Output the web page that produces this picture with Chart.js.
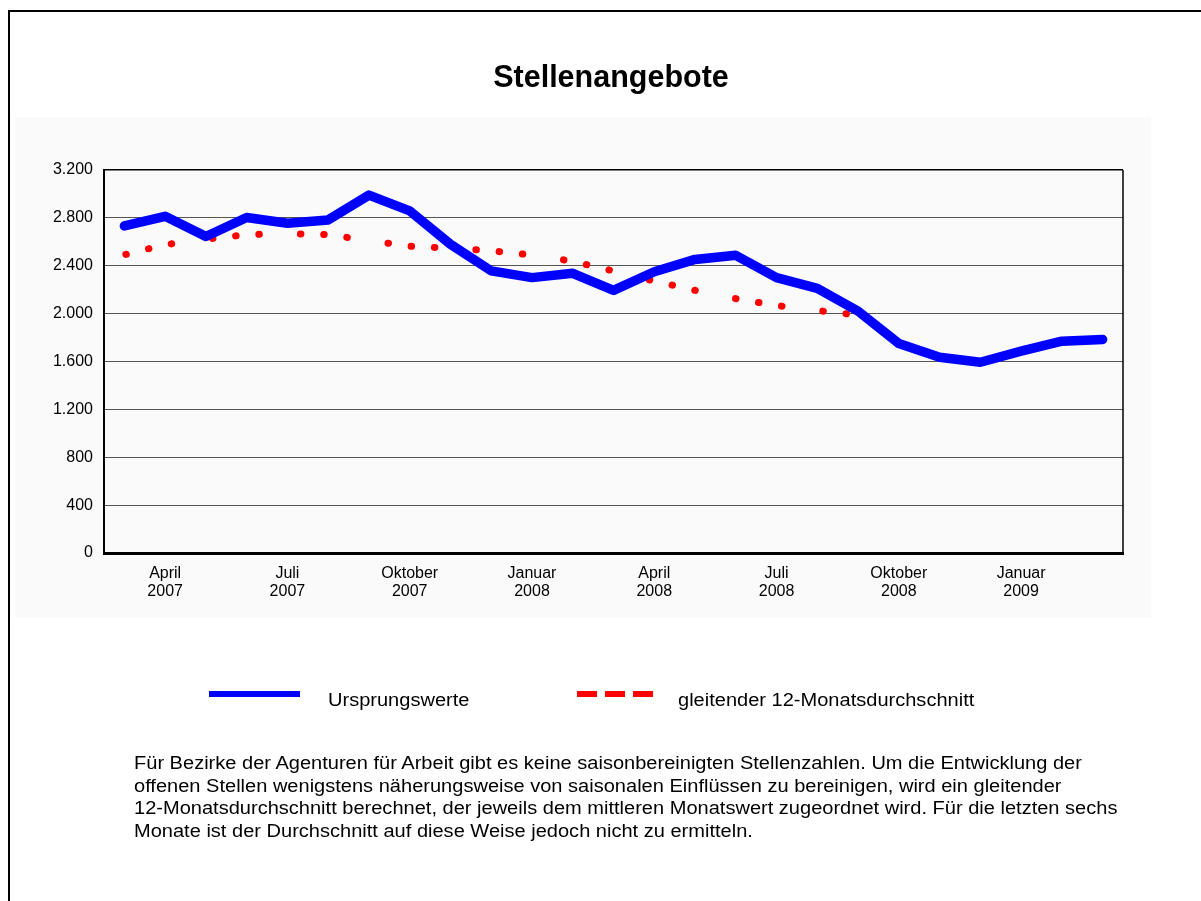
<!DOCTYPE html>
<html lang="de">
<head>
<meta charset="utf-8">
<title>Stellenangebote</title>
<script src="https://cdn.jsdelivr.net/npm/chart.js@4/dist/chart.umd.min.js"></script>
<style>
  html, body { margin: 0; padding: 0; background: #fff; overflow: hidden; }
  body { width: 1201px; height: 901px; position: relative; font-family: Arial, "Liberation Sans", sans-serif; color: #000; }
  #frame { position: absolute; left: 8px; top: 10px; width: 1300px; height: 1000px; border: 2px solid #000; }
  #plotBg { position: absolute; left: 15px; top: 117px; width: 1136px; height: 501px; background: #fafafa; }
  #chart { position: absolute; left: 0; top: 0; }
  #title { position: absolute; left: 0; width: 1222px; top: 61px; text-align: center; font-size: 30.5px; font-weight: bold; line-height: 30px; }
  .legLine { position: absolute; height: 6px; }
  .legText { position: absolute; font-size: 17.5px; line-height: 19px; white-space: nowrap; transform: scaleX(1.145); transform-origin: 0 0; }
  #note { position: absolute; left: 134px; top: 752px; font-size: 17.5px; line-height: 22.6px; white-space: nowrap; transform: scaleX(1.145); transform-origin: 0 0; }
</style>
</head>
<body>
<div id="frame"></div>
<div id="plotBg"></div>
<canvas id="chart" width="1201" height="901"></canvas>
<div id="title">Stellenangebote</div>

<div class="legLine" style="left:209px; top:691px; width:91px; background:#0000ff;"></div>
<div class="legText" style="left:328px; top:691px;">Ursprungswerte</div>
<div class="legLine" style="left:577px; top:691px; width:20px; background:#ff0000;"></div>
<div class="legLine" style="left:605px; top:691px; width:20px; background:#ff0000;"></div>
<div class="legLine" style="left:633px; top:691px; width:20px; background:#ff0000;"></div>
<div class="legText" style="left:678px; top:691px;">gleitender 12-Monatsdurchschnitt</div>

<div id="note">Für Bezirke der Agenturen für Arbeit gibt es keine saisonbereinigten Stellenzahlen. Um die Entwicklung der<br>offenen Stellen wenigstens näherungsweise von saisonalen Einflüssen zu bereinigen, wird ein gleitender<br>12-Monatsdurchschnitt berechnet, der jeweils dem mittleren Monatswert zugeordnet wird. Für die letzten sechs<br>Monate ist der Durchschnitt auf diese Weise jedoch nicht zu ermitteln.</div>

<script>
// Monate März 2007 bis März 2009
const months = ['März', 'April', 'Mai', 'Juni', 'Juli', 'August', 'September', 'Oktober', 'November', 'Dezember',
  'Januar', 'Februar', 'März', 'April', 'Mai', 'Juni', 'Juli', 'August', 'September', 'Oktober', 'November', 'Dezember',
  'Januar', 'Februar', 'März'];
const years = ['2007', '2007', '2007', '2007', '2007', '2007', '2007', '2007', '2007', '2007',
  '2008', '2008', '2008', '2008', '2008', '2008', '2008', '2008', '2008', '2008', '2008', '2008',
  '2009', '2009', '2009'];

const ursprungswerte = [2733, 2813, 2644, 2803, 2755, 2783, 2990, 2858, 2580, 2357, 2301, 2337, 2194,
  2350, 2453, 2487, 2301, 2211, 2021, 1750, 1636, 1594, 1686, 1770, 1784];

// gleitender Durchschnitt, letzte sechs Monate nicht ermittelbar
const durchschnitt = [2492, 2576, 2622, 2660, 2668, 2660, 2610, 2563, 2547, 2525, 2490, 2437, 2356,
  2272, 2195, 2125, 2068, 2026, 1988, null, null, null, null, null, null];

const labels = months.map((m, i) => m + ' ' + years[i]);

function formatDe(v) {
  return String(v).replace(/\B(?=(\d{3})+(?!\d))/g, '.');
}

// rechter Rand des Diagrammbereichs
const frameRight = {
  id: 'frameRight',
  beforeDatasetsDraw(chart) {
    const { ctx, chartArea } = chart;
    ctx.save();
    ctx.strokeStyle = '#000';
    ctx.lineWidth = 1.5;
    ctx.beginPath();
    ctx.moveTo(chartArea.right, chartArea.top);
    ctx.lineTo(chartArea.right, chartArea.bottom);
    ctx.stroke();
    ctx.restore();
  }
};

const ctx = document.getElementById('chart').getContext('2d');
new Chart(ctx, {
  type: 'line',
  data: {
    labels: labels,
    datasets: [
      {
        label: 'Ursprungswerte',
        data: ursprungswerte,
        borderColor: '#0000ff',
        borderWidth: 9.5,
        borderCapStyle: 'round',
        borderJoinStyle: 'round',
        pointRadius: 0,
        tension: 0
      },
      {
        label: 'gleitender 12-Monatsdurchschnitt',
        data: durchschnitt,
        borderColor: '#ff0000',
        borderWidth: 7,
        borderCapStyle: 'round',
        borderDash: [0.5, 22.8, 0.5, 22.8, 0.5, 41.1],
        borderDashOffset: -1.5,
        pointRadius: 0,
        spanGaps: false,
        tension: 0
      }
    ]
  },
  options: {
    responsive: false,
    animation: false,
    layout: { padding: { top: 170, right: 78, bottom: 288, left: 0 } },
    plugins: {
      legend: { display: false },
      title: { display: false },
      tooltip: { enabled: false }
    },
    scales: {
      x: {
        offset: true,
        grid: { display: false, drawTicks: false, tickLength: 0 },
        border: { display: true, color: '#000', width: 3 },
        afterFit(scale) { scale.height = 60; },
        ticks: {
          autoSkip: false,
          maxRotation: 0,
          padding: 11,
          color: '#000',
          font: { family: 'Arial, "Liberation Sans", sans-serif', size: 16, lineHeight: 1.15 },
          callback(value, index) {
            return index % 3 === 1 ? [months[index], years[index]] : '';
          }
        }
      },
      y: {
        min: 0,
        max: 3200,
        grid: {
          drawTicks: false,
          color: (c) => c.tick && c.tick.value === 3200 ? '#000' : '#555',
          lineWidth: (c) => c.tick && c.tick.value === 3200 ? 1.5 : 1
        },
        border: { display: true, color: '#000', width: 2 },
        afterFit(scale) { scale.width = 104; },
        ticks: {
          stepSize: 400,
          padding: 11,
          color: '#000',
          font: { family: 'Arial, "Liberation Sans", sans-serif', size: 16 },
          callback(value) { return formatDe(value); }
        }
      }
    }
  },
  plugins: [frameRight]
});
</script>
</body>
</html>
